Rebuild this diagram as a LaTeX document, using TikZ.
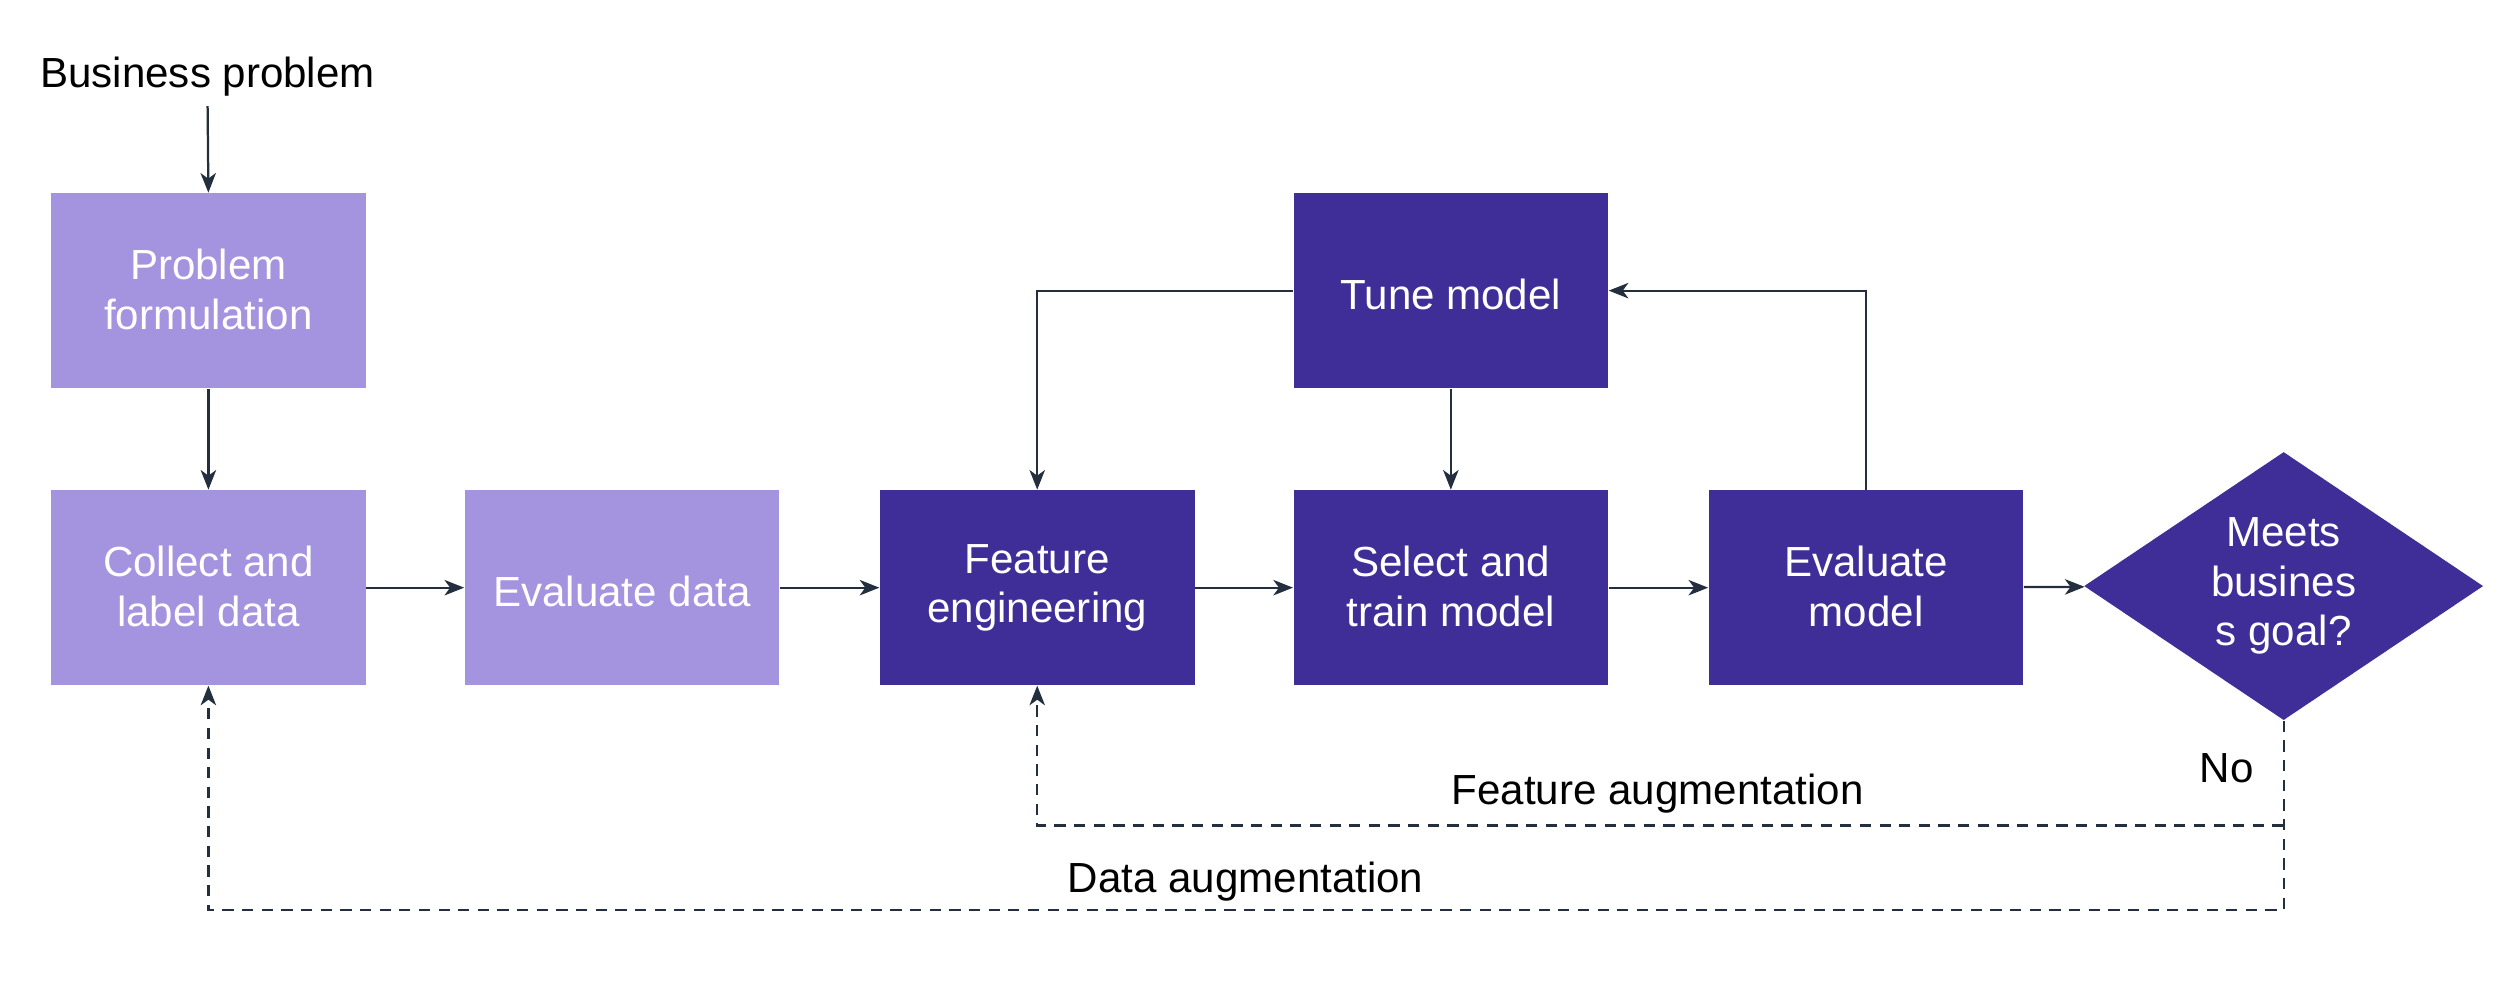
\documentclass[tikz,border=0pt]{standalone}
\usepackage{fontspec}
\setmainfont{Liberation Sans}
\usetikzlibrary{arrows.meta,shapes.geometric}
\definecolor{lightpurple}{HTML}{A494E0}
\definecolor{darkpurple}{HTML}{3F2D98}
\definecolor{ink}{HTML}{232F3E}
\newcommand\boxstrut{\rule[-1pt]{0pt}{15.5pt}}

\begin{document}
\begin{tikzpicture}[font=\fontsize{15}{17.6}\selectfont,
    light/.style={fill=lightpurple, text=white, minimum width=3.94cm, minimum height=2.44cm, align=center,
        execute at begin node=\boxstrut, execute at end node=\boxstrut},
    dark/.style={light, fill=darkpurple},
    line/.style={draw=ink, line width=0.8pt, -{Stealth[length=7pt,width=5.5pt,inset=2pt]}},
    back/.style={line, dash pattern=on 4pt off 3pt}]
    \useasboundingbox (0,0) rectangle (31.36,12.44);
    \node (biz) at (2.60,11.48) {Business problem};
    \node[light] (prob) at (2.61,8.80) {Problem\\formulation};
    \node[light] (collect) at (2.61,5.08) {Collect and\\label data};
    \node[light] (evald) at (7.79,5.08) {Evaluate data};
    \node[dark] (feat) at (12.99,5.08) {Feature\\engineering};
    \node[dark] (select) at (18.17,5.08) {Select and\\train model};
    \node[dark] (evalm) at (23.37,5.08) {Evaluate\\model};
    \node[dark] (tune) at (18.17,8.80) {Tune model};
    \node[diamond, fill=darkpurple, text=white, align=center, inner sep=0pt, aspect=1.5,
        minimum width=5cm, minimum height=3.36cm,
        execute at begin node=\boxstrut, execute at end node=\boxstrut] (goal) at (28.60,5.10) {Meets\\busines\\s goal?};
    \coordinate (fb) at (28.60,2.10);
    \coordinate (db) at (28.60,1.04);
    \draw[line] (biz.south) -- (prob.north);
    \draw[line] (prob) -- (collect);
    \draw[line] (collect) -- (evald);
    \draw[line] (evald) -- (feat);
    \draw[line] (feat) -- (select);
    \draw[line] (select) -- (evalm);
    \draw[line] (evalm) -- (goal);
    \draw[line] (tune) -- (select);
    \draw[line] (tune.west) -| (feat.north);
    \draw[line] (evalm.north) |- (tune.east);
    \draw[back] (goal.south) -- (db) -| (collect.south);
    \draw[back] (fb) -| (feat.south);
    \node[anchor=east] (no) at (28.35,2.82) {No};
    \node (featlbl) at (20.76,2.50) {Feature augmentation};
    \node (datalbl) at (15.60,1.40) {Data augmentation};
\end{tikzpicture}
\end{document}
